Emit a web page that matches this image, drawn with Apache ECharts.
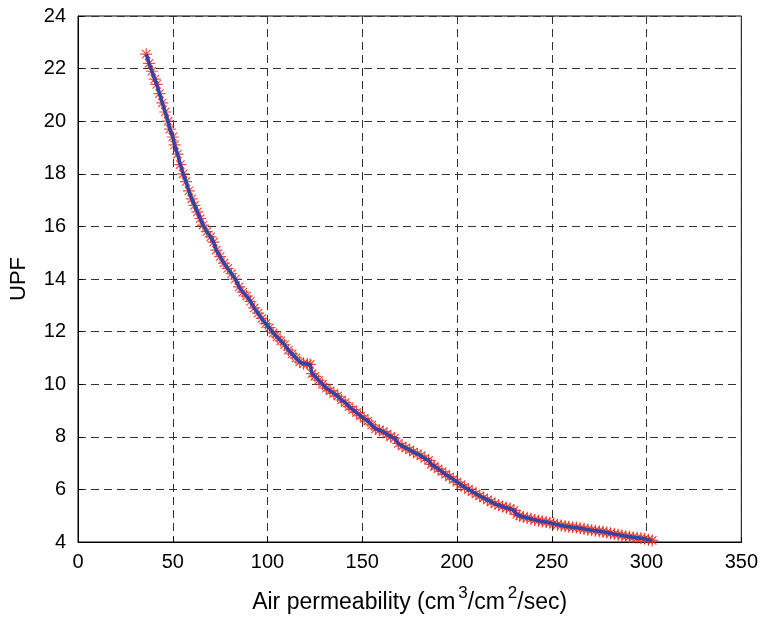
<!DOCTYPE html>
<html>
<head>
<meta charset="utf-8">
<script src="https://cdn.jsdelivr.net/npm/echarts@6/dist/echarts.min.js"></script>
<style>
  html, body { margin: 0; padding: 0; background: #fff; }
  #chart { width: 761px; height: 620px; }
</style>
</head>
<body>
<div id="chart"></div>
<script>
// air permeability (x) and UPF (y)
var airPerm = [
  36, 37.5, 39, 40.5, 41.5, 43, 44.5, 46, 47.5, 48.5, 50, 51, 52.5, 54, 55.5, 57, 58.5, 60,
  61.5, 63, 64.5, 66, 68, 70, 71.5, 73, 75, 77, 79, 81, 83, 85, 87, 89, 91, 93, 95, 97, 99,
  101, 103, 105, 107, 109, 111, 113, 115, 117, 119, 121, 122.5, 123.5, 125, 127, 129, 131,
  133, 135, 137, 139, 141, 143, 145, 147, 149, 151, 153, 155, 157, 159, 161, 163, 165, 167,
  169, 171, 173, 175, 177, 179, 181, 183, 185, 186.5, 188, 190, 192, 194, 196, 198, 200,
  202, 204, 206, 208, 210, 212, 214, 216, 218, 220, 222, 224, 226, 228, 230, 231.5, 233,
  235, 237, 239, 241, 243, 245, 247, 249, 251, 253, 255, 257, 259, 261, 263, 265, 267, 269,
  271, 273, 275, 277, 279, 281, 283, 285, 287, 289, 291, 293, 295, 297, 299, 301, 303
];
var upf = [
  22.55, 22.2, 21.9, 21.6, 21.4, 21.05, 20.7, 20.35, 20.0, 19.7, 19.4, 19.1, 18.75, 18.35, 18.0, 17.7, 17.35, 17.05,
  16.8, 16.55, 16.3, 16.05, 15.8, 15.6, 15.4, 15.1, 14.85, 14.6, 14.4, 14.2, 14.0, 13.7, 13.5, 13.35, 13.15, 12.9, 12.7, 12.5, 12.3,
  12.15, 11.95, 11.8, 11.65, 11.5, 11.3, 11.15, 11.0, 10.85, 10.78, 10.77, 10.75, 10.4, 10.3, 10.15, 10.0, 9.85,
  9.75, 9.65, 9.55, 9.4, 9.3, 9.15, 9.03, 8.92, 8.8, 8.7, 8.6, 8.45, 8.3, 8.25, 8.2, 8.1, 8.0, 7.95,
  7.75, 7.65, 7.58, 7.5, 7.42, 7.35, 7.28, 7.18, 7.1, 6.95, 6.88, 6.78, 6.68, 6.57, 6.48, 6.38, 6.28,
  6.18, 6.08, 6.0, 5.92, 5.83, 5.75, 5.68, 5.6, 5.53, 5.45, 5.4, 5.35, 5.3, 5.27, 5.2, 5.05, 5.0,
  4.95, 4.92, 4.88, 4.84, 4.81, 4.78, 4.76, 4.73, 4.7, 4.66, 4.63, 4.6, 4.58, 4.56, 4.55, 4.52, 4.5, 4.47,
  4.45, 4.43, 4.41, 4.39, 4.36, 4.33, 4.3, 4.28, 4.25, 4.22, 4.2, 4.18, 4.16, 4.14, 4.12, 4.09, 4.06
];

var points = airPerm.map(function (x, i) { return [x, upf[i]]; });

// matlab style '*' marker
var asterisk = 'path://M0,5L10,5M5,0L5,10M1.5,1.5L8.5,8.5M8.5,1.5L1.5,8.5';

var font = 'Liberation Sans, Arial, Helvetica, sans-serif';
var gridLine = { show: true, lineStyle: { color: '#333', type: [8, 5], width: 1 } };

var chart = echarts.init(document.getElementById('chart'), null, { renderer: 'canvas' });
chart.setOption({
  animation: false,
  backgroundColor: '#fff',
  grid: { left: 77, top: 16, right: 19, bottom: 78, show: true, borderColor: '#000', borderWidth: 1 },
  xAxis: {
    type: 'value', min: 0, max: 350, interval: 50,
    name: '{t|Air permeability (cm}{s|3}{t|/cm}{s|2}{t|/sec)}',
    nameLocation: 'middle', nameGap: 43,
    nameTextStyle: {
      rich: {
        t: { fontSize: 23, fontFamily: font, color: '#000', verticalAlign: 'bottom', lineHeight: 29 },
        s: { fontSize: 17, fontFamily: font, color: '#000', verticalAlign: 'top', lineHeight: 29, padding: [0, 0, 12, 3] }
      }
    },
    axisLine: { lineStyle: { color: '#000' } },
    axisTick: { inside: true, length: 5, lineStyle: { color: '#000' } },
    axisLabel: { color: '#000', fontSize: 20, fontFamily: font, margin: 10 },
    splitLine: gridLine
  },
  yAxis: {
    type: 'value', min: 4, max: 24, interval: 2,
    name: 'UPF', nameLocation: 'middle', nameGap: 48,
    nameTextStyle: { fontSize: 22, fontFamily: font, color: '#000' },
    axisLine: { show: true, lineStyle: { color: '#000' } },
    axisTick: { show: true, inside: true, length: 5, lineStyle: { color: '#000' } },
    axisLabel: { color: '#000', fontSize: 20, fontFamily: font, margin: 12 },
    splitLine: gridLine
  },
  series: [
    {
      type: 'scatter',
      data: points,
      symbol: asterisk,
      symbolSize: 12,
      z: 2,
      itemStyle: { color: 'none', borderColor: '#ee2a1c', borderWidth: 1.2, opacity: 0.85 }
    },
    {
      type: 'line',
      data: points,
      showSymbol: false,
      z: 3,
      lineStyle: { color: '#3344a6', width: 3.5 }
    }
  ]
});
</script>
</body>
</html>
